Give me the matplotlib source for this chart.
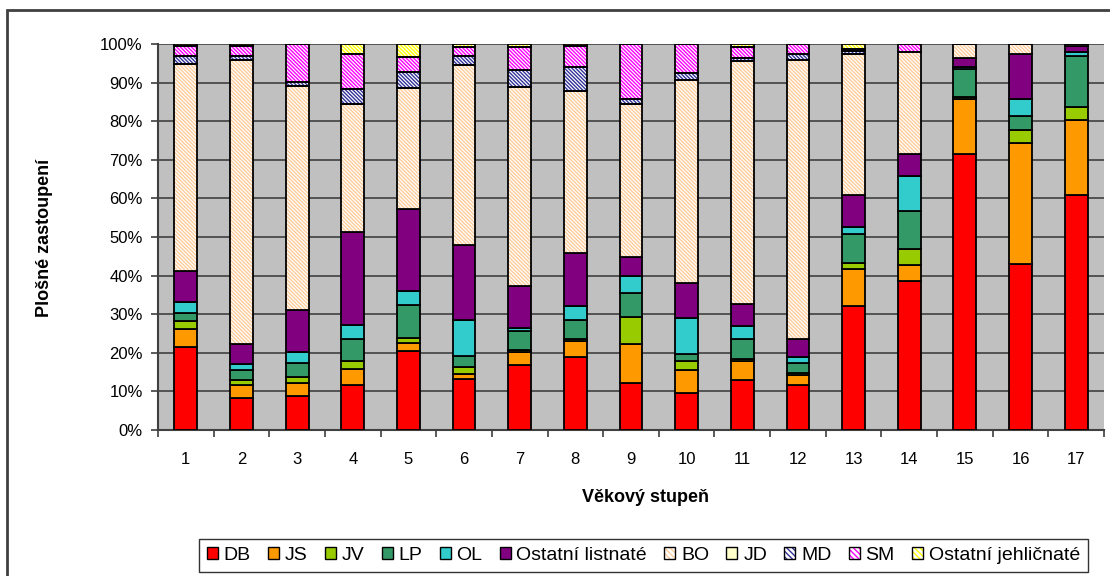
import matplotlib
matplotlib.use("Agg")
import matplotlib.pyplot as plt
from matplotlib.patches import Rectangle, Patch
from matplotlib.legend_handler import HandlerTuple
import numpy as np

plt.rcParams['font.family'] = ['Liberation Sans', 'DejaVu Sans']
plt.rcParams['hatch.linewidth'] = 1.0

# Age classes (věkové stupně)
categories = [str(i) for i in range(1, 18)]

# Share of each tree species per age class, in percent
DB = [21.4, 8.4, 8.8, 11.7, 20.5, 13.1, 16.8, 18.8, 12.3, 9.7, 13.0, 11.7, 32.0, 38.6, 71.4, 42.9, 61.0]
JS = [4.7, 3.3, 3.3, 4.1, 2.1, 1.3, 3.3, 4.3, 10.0, 5.8, 5.0, 2.5, 9.6, 4.1, 14.4, 31.4, 19.3]
JV = [2.1, 1.3, 1.7, 2.1, 1.3, 2.0, 0.5, 0.4, 7.1, 2.5, 0.4, 0.5, 1.6, 4.2, 0.4, 3.4, 3.3]
LP = [2.0, 2.5, 3.5, 5.6, 8.5, 2.9, 5.0, 5.0, 6.2, 1.7, 5.1, 2.6, 7.6, 9.8, 7.3, 3.7, 13.4]
OL = [2.9, 1.7, 2.8, 3.8, 3.7, 9.2, 0.9, 3.5, 4.3, 9.2, 3.4, 1.7, 1.7, 9.2, 0.6, 4.3, 1.0]
OST_L = [8.2, 5.1, 11.0, 23.9, 21.1, 19.4, 10.8, 13.8, 5.0, 9.3, 5.7, 4.6, 8.4, 5.5, 2.4, 11.7, 1.5]
BO = [53.6, 73.6, 58.0, 33.3, 31.3, 46.7, 51.6, 42.0, 39.6, 52.5, 63.1, 72.3, 36.5, 26.6, 3.5, 2.6, 0.5]
JD = [0.0] * 17
MD = [2.1, 1.1, 1.1, 3.8, 4.3, 2.4, 4.4, 6.3, 1.2, 1.7, 0.8, 1.5, 0.9, 0.0, 0.0, 0.0, 0.0]
SM = [2.5, 2.5, 9.8, 9.1, 3.9, 2.3, 6.0, 5.5, 14.3, 7.6, 2.8, 2.6, 0.4, 2.0, 0.0, 0.0, 0.0]
OST_J = [0.5, 0.5, 0.0, 2.6, 3.3, 0.7, 0.7, 0.4, 0.0, 0.0, 0.7, 0.0, 1.3, 0.0, 0.0, 0.0, 0.0]

series_names = ['DB', 'JS', 'JV', 'LP', 'OL', 'Ostatní listnaté', 'BO', 'JD', 'MD', 'SM',
                'Ostatní jehličnaté']
series_values = [DB, JS, JV, LP, OL, OST_L, BO, JD, MD, SM, OST_J]

# (face colour, hatch colour or None)
styles = [
    ('#FF0000', None),
    ('#FF9900', None),
    ('#99CC00', None),
    ('#339966', None),
    ('#33CCCC', None),
    ('#800080', None),
    ('white', '#FFCC99'),
    ('#FFFFCC', None),
    ('white', '#333399'),
    ('white', '#FF00FF'),
    ('white', '#FFFF00'),
]
HATCH = '\\' * 9

fig = plt.figure(figsize=(11.10, 5.76), dpi=100)
ax = fig.add_axes([158 / 1110, 1 - 430 / 576, (1104 - 158) / 1110, (430 - 44) / 576])
ax.set_facecolor('#C0C0C0')

x = np.arange(1, len(categories) + 1)
width = 0.41
bottom = np.zeros(len(categories))
handles = []
for name, vals, (fc, hc) in zip(series_names, series_values, styles):
    vals = np.array(vals)
    if hc is None:
        ax.bar(x, vals, width, bottom=bottom, color=fc, edgecolor='black',
               linewidth=1.3, zorder=3)
        handles.append(Patch(facecolor=fc, edgecolor='black', linewidth=1.0))
    else:
        ax.bar(x, vals, width, bottom=bottom, color=fc, edgecolor=hc, hatch=HATCH,
               linewidth=0, zorder=3)
        ax.bar(x, vals, width, bottom=bottom, color='none', edgecolor='black',
               linewidth=1.3, zorder=4)
        handles.append((Patch(facecolor=fc, edgecolor=hc, hatch='\\' * 6, linewidth=0),
                        Patch(facecolor='none', edgecolor='black', linewidth=1.0)))
    bottom += vals

ax.set_xlim(0.5, len(categories) + 0.5)
ax.set_ylim(0, 100)
ax.set_yticks(np.arange(0, 101, 10))
ax.set_yticklabels([f'{v}%' for v in range(0, 101, 10)])
ax.set_xticks(x)
ax.set_xticklabels(categories)
ax.set_xticks(np.arange(0.5, len(categories) + 1, 1), minor=True)
ax.tick_params(axis='x', which='major', length=0, pad=16, labelsize=12)
ax.tick_params(axis='x', which='minor', length=5, width=1.2, color='#404040', direction='out')
ax.tick_params(axis='y', length=5, width=1.2, color='#404040', pad=6, labelsize=12)
ax.yaxis.grid(True, color='#404040', linewidth=1.2, zorder=1)
ax.set_axisbelow(True)

for side in ('top', 'right'):
    ax.spines[side].set_visible(False)
for side in ('left', 'bottom'):
    ax.spines[side].set_color('#404040')
    ax.spines[side].set_linewidth(1.5)

fig.text(645 / 1110, 1 - 497 / 576, 'Věkový stupeň', ha='center', va='center',
         fontsize=13, fontweight='bold')
fig.text(45 / 1110, 1 - 238 / 576, 'Plošné zastoupení', ha='center', va='center',
         rotation=90, fontsize=13, fontweight='bold')

leg = fig.legend(handles=handles, labels=series_names, loc='center', ncol=11,
                 handler_map={tuple: HandlerTuple(ndivide=1)},
                 bbox_to_anchor=(643.5 / 1110, 1 - 555.5 / 576), bbox_transform=fig.transFigure,
                 fontsize=14, frameon=True, fancybox=False, shadow=False,
                 handlelength=0.57, handleheight=0.57, handletextpad=0.3,
                 columnspacing=0.88, borderpad=0.4, borderaxespad=0)
leg.get_frame().set_edgecolor('black')
leg.get_frame().set_linewidth(1.0)

# outer chart frame
fig.patches.append(Rectangle((7 / 1110, -0.1), 1.2, 1 - 10 / 576 + 0.1,
                             transform=fig.transFigure, fill=False,
                             edgecolor='#404040', linewidth=2))

fig.savefig('out.png', dpi=100)
